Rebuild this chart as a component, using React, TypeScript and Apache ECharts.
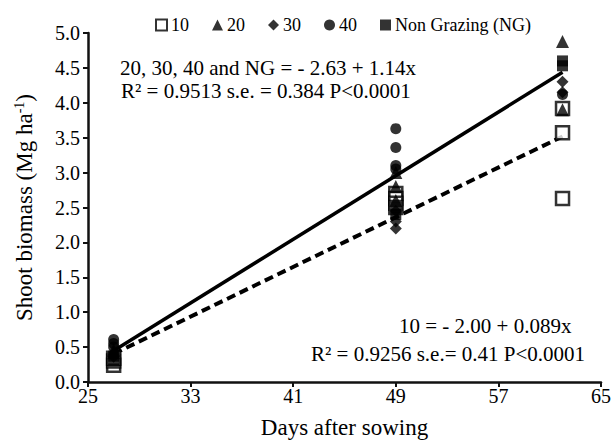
import React, { useEffect, useRef } from "react";
import * as echarts from "echarts";

const xTicks = [25, 33, 41, 49, 57, 65];
const seriesNames = ["10", "20", "30", "40", "Non Grazing (NG)"];
// [days after sowing, shoot biomass]
const s10: number[][] = [
  [27, 0.24], [27, 0.3], [27, 0.34],
  [49, 2.7], [49, 2.63], [49, 2.56], [49, 2.5],
  [62, 3.92], [62, 3.57], [62, 2.63],
];
const s20: number[][] = [
  [27, 0.42], [27, 0.46],
  [49, 3.0], [49, 2.8], [49, 2.6],
  [62, 4.88], [62, 3.9],
];
const s30: number[][] = [
  [27, 0.36], [27, 0.4],
  [49, 2.2], [49, 2.3], [49, 2.45],
  [62, 4.3], [62, 4.15],
];
const s40: number[][] = [
  [27, 0.61], [27, 0.55], [27, 0.5],
  [49, 3.63], [49, 3.36], [49, 3.1], [49, 3.05],
  [62, 4.12],
];
const sNG: number[][] = [
  [27, 0.3], [27, 0.37],
  [49, 2.4], [49, 2.5],
  [62, 4.6], [62, 4.53],
];
// regression equations
const fitAll = { a: -2.63, b: 0.114, x0: 27, x1: 62 };
const fit10 = { a: -2.0, b: 0.089, x0: 27, x1: 62 };

const FONT = "Liberation Serif";

export default function App() {
  const ref = useRef<HTMLDivElement>(null);
  useEffect(() => {
    const chart = echarts.init(ref.current!, null, { renderer: "svg" });
    const line = (f: typeof fitAll) => [
      [f.x0, +(f.a + f.b * f.x0).toFixed(3)],
      [f.x1, +(f.a + f.b * f.x1).toFixed(3)],
    ];
    const scatterBase = { type: "scatter", z: 3 };
    const eqFont = `21px "${FONT}"`;
    chart.setOption({
      animation: false,
      textStyle: { fontFamily: FONT, color: "#000" },
      grid: { left: 88, right: 12, top: 33, bottom: 60 },
      legend: {
        top: 11,
        left: 150,
        itemGap: 23,
        itemWidth: 11,
        itemHeight: 11,
        textStyle: { fontFamily: FONT, fontSize: 18, color: "#000", padding: [0, 0, 0, -1] },
        data: seriesNames,
      },
      xAxis: {
        type: "value",
        min: xTicks[0],
        max: xTicks[xTicks.length - 1],
        interval: 8,
        name: "Days after sowing",
        nameLocation: "middle",
        nameGap: 34,
        nameTextStyle: { fontFamily: FONT, fontSize: 23, color: "#000" },
        axisLine: { show: true, lineStyle: { color: "#111", width: 2.5 } },
        axisTick: { show: true, length: 5, lineStyle: { color: "#111", width: 2 } },
        axisLabel: { fontFamily: FONT, fontSize: 20, color: "#000", margin: 4 },
        splitLine: { show: false },
      },
      yAxis: {
        type: "value",
        min: 0,
        max: 5,
        interval: 0.5,
        name: "Shoot biomass (Mg ha{sup|-1})",
        nameLocation: "middle",
        nameGap: 52,
        nameTextStyle: {
          fontFamily: FONT,
          fontSize: 23,
          color: "#000",
          rich: { sup: { fontFamily: FONT, fontSize: 14, verticalAlign: "top", color: "#000", padding: [0, 0, 10, 0] } },
        },
        axisLine: { show: true, lineStyle: { color: "#111", width: 2.5 } },
        axisTick: { show: true, length: 5, lineStyle: { color: "#111", width: 2 } },
        axisLabel: {
          fontFamily: FONT,
          fontSize: 20,
          color: "#000",
          margin: 8,
          formatter: (v: number) => v.toFixed(1),
        },
        splitLine: { show: false },
      },
      series: [
        {
          ...scatterBase,
          name: "10",
          symbol: "rect",
          symbolSize: 13,
          data: s10,
          itemStyle: { color: "#fff", borderColor: "#000", borderWidth: 2.5 },
        },
        {
          ...scatterBase,
          name: "20",
          symbol: "triangle",
          symbolSize: 13,
          data: s20,
          itemStyle: { color: "#000" },
        },
        {
          ...scatterBase,
          name: "30",
          symbol: "diamond",
          symbolSize: 12,
          data: s30,
          itemStyle: { color: "#000" },
        },
        {
          ...scatterBase,
          name: "40",
          symbol: "circle",
          symbolSize: 11,
          data: s40,
          itemStyle: { color: "#000" },
        },
        {
          ...scatterBase,
          name: "Non Grazing (NG)",
          symbol: "rect",
          symbolSize: 11,
          data: sNG,
          itemStyle: { color: "#000" },
        },
        {
          type: "line",
          name: "fitAll",
          data: line(fitAll),
          symbol: "none",
          lineStyle: { color: "#000", width: 3.5, type: "solid" },
          z: 2,
        },
        {
          type: "line",
          name: "fit10",
          data: line(fit10),
          symbol: "none",
          lineStyle: { color: "#000", width: 4, type: [9, 5] },
          z: 2,
        },
      ],
      graphic: [
        {
          type: "text",
          x: 120,
          y: 68,
          style: { text: "20, 30, 40 and NG = - 2.63 + 1.14x", font: eqFont, fill: "#000", verticalAlign: "middle" },
        },
        {
          type: "text",
          x: 121,
          y: 91,
          style: { text: "R² = 0.9513 s.e. = 0.384 P<0.0001", font: eqFont, fill: "#000", verticalAlign: "middle" },
        },
        {
          type: "text",
          x: 399,
          y: 326,
          style: { text: "10 = - 2.00 + 0.089x", font: eqFont, fill: "#000", verticalAlign: "middle" },
        },
        {
          type: "text",
          x: 311,
          y: 354,
          style: { text: "R² = 0.9256 s.e.= 0.41 P<0.0001", font: eqFont, fill: "#000", verticalAlign: "middle" },
        },
      ],
    });
    return () => chart.dispose();
  }, []);
  return (
    <div
      ref={ref}
      style={{ position: "fixed", left: 0, top: 0, width: 614, height: 444, background: "#fff" }}
    />
  );
}
